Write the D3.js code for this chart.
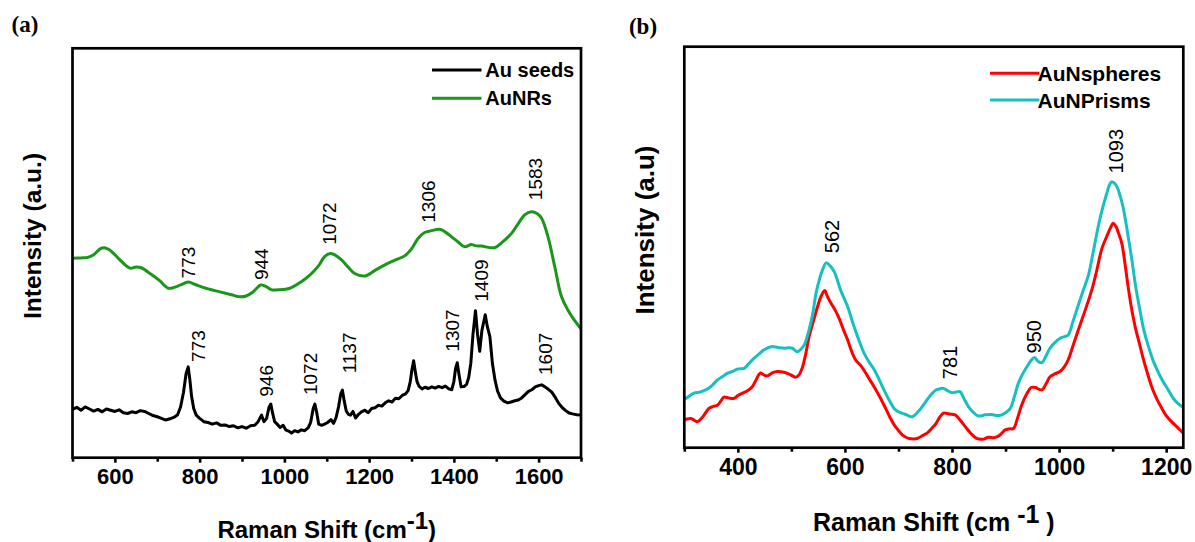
<!DOCTYPE html>
<html>
<head>
<meta charset="utf-8">
<script src="https://cdn.jsdelivr.net/npm/d3@7/dist/d3.min.js"></script>
<style>
  html, body { margin: 0; padding: 0; background: #fff; }
  svg { display: block; font-family: "Liberation Sans", Arial, sans-serif; }
</style>
</head>
<body>
<svg id="fig" width="1195" height="542"></svg>
<script>
// ---------- Panel (a): Raman spectra, Au seeds vs AuNRs ----------
const seedsSpectrum = [
  [500,11.8],[510,12.3],[520,11.6],[530,12.4],[540,11.9],[550,11.4],[560,11.8],[570,11.2],[580,11.9],[590,11.6],
  [600,11.3],[610,11.7],[620,11.0],[630,10.8],[640,11.2],[650,11.0],[660,11.5],[670,11.3],[680,10.8],[690,10.3],
  [700,10.0],[710,9.6],[720,9.2],[730,9.5],[740,9.9],[748,10.5],[755,12.4],[762,16.0],[768,20.5],[773,22.2],
  [777,19.0],[781,15.0],[786,12.0],[792,10.4],[800,9.6],[810,8.8],[820,8.6],[830,8.2],[840,8.5],[850,7.9],
  [860,8.0],[870,7.6],[880,7.8],[890,7.3],[900,7.6],[910,7.2],[920,7.8],[930,7.9],[938,8.8],[946,10.4],
  [952,8.8],[958,9.6],[964,12.4],[968,13.1],[972,11.0],[977,8.8],[983,8.2],[990,7.4],[997,7.9],[1003,6.8],
  [1010,6.5],[1017,6.0],[1024,6.6],[1032,6.3],[1040,6.8],[1048,6.6],[1056,7.3],[1062,8.6],[1068,12.0],[1072,13.1],
  [1076,11.2],[1081,8.2],[1088,7.9],[1095,8.2],[1102,8.6],[1110,9.3],[1116,8.4],[1122,9.8],[1128,12.5],[1133,15.6],
  [1137,16.5],[1141,14.0],[1146,11.4],[1151,10.6],[1156,10.4],[1162,11.3],[1168,9.7],[1175,10.6],[1182,11.2],[1190,11.6],
  [1198,11.0],[1206,12.0],[1214,12.2],[1222,12.8],[1230,12.6],[1238,13.4],[1246,13.9],[1254,13.6],[1262,14.5],[1270,14.4],
  [1278,15.2],[1286,15.6],[1292,16.4],[1297,18.5],[1301,21.5],[1305,23.7],[1309,21.0],[1313,18.6],[1318,17.4],[1325,16.8],
  [1332,17.2],[1340,16.9],[1348,17.3],[1356,17.0],[1364,17.4],[1372,17.1],[1380,17.5],[1388,16.8],[1395,16.6],[1400,18.6],
  [1404,21.8],[1408,23.2],[1412,20.4],[1417,17.3],[1424,17.4],[1430,17.9],[1435,19.6],[1440,23.1],[1445,30.0],[1451,35.9],
  [1456,30.0],[1461,26.0],[1466,31.0],[1474,34.9],[1479,32.0],[1485,29.6],[1491,23.0],[1497,19.0],[1503,16.3],[1510,14.6],
  [1518,13.8],[1527,13.4],[1535,13.6],[1544,13.9],[1552,14.1],[1560,14.6],[1568,15.4],[1576,16.2],[1584,16.6],[1592,17.3],
  [1600,17.6],[1607,17.8],[1615,17.3],[1623,16.7],[1631,16.0],[1640,14.6],[1648,13.2],[1656,12.2],[1664,11.5],[1672,10.9],
  [1680,10.7],[1690,10.5],[1700,10.4]
];

const nanorodSpectrum = [
  [500,48.7],[520,48.8],[535,48.9],[550,49.6],[565,51.0],[575,51.3],[585,50.9],[597,49.9],[615,48.0],[636,46.3],
  [650,46.6],[662,46.4],[683,45.0],[705,43.3],[726,41.4],[740,41.6],[755,42.2],[773,42.9],[790,42.3],[808,41.6],
  [848,40.5],[875,39.8],[895,39.3],[910,39.5],[925,40.4],[935,41.4],[944,42.2],[955,41.9],[970,41.0],[985,41.0],
  [1013,41.4],[1040,43.0],[1060,44.6],[1080,46.8],[1095,49.1],[1108,49.9],[1118,49.6],[1135,48.3],[1150,46.6],[1166,45.0],
  [1190,44.4],[1213,45.7],[1237,47.1],[1260,48.2],[1284,49.3],[1300,51.0],[1315,53.5],[1331,55.0],[1345,55.4],[1367,55.8],
  [1380,55.1],[1394,54.0],[1410,52.7],[1426,51.5],[1441,52.1],[1450,51.8],[1465,51.7],[1496,51.3],[1515,52.7],[1536,54.8],
  [1552,57.2],[1567,59.3],[1583,60.1],[1597,59.6],[1607,58.5],[1622,54.0],[1638,46.7],[1654,39.3],[1669,36.1],[1683,33.8],
  [1700,31.5]
];

// peak annotations: [text, wavenumber, intensity at the foot of the label]
const seedsPeaks = [
  ["773", 797, 23.4], ["946", 958, 14.9], ["1072", 1062, 15.3], ["1137", 1154, 20.6],
  ["1307", 1397, 25.9], ["1409", 1465, 38.1], ["1607", 1616, 20.2]
];
const nanorodPeaks = [
  ["773", 773, 43.8], ["944", 946, 43.4], ["1072", 1106, 52.0], ["1306", 1340, 57.4], ["1583", 1593, 62.9]
];

const ticksA = [600, 800, 1000, 1200, 1400, 1600];
const minorTicksA = [500, 700, 900, 1100, 1300, 1500, 1700];
const seriesNamesA = ["Au seeds", "AuNRs"];

// ---------- Panel (b): Raman spectra, AuNspheres vs AuNPrisms ----------
const spheresSpectrum = [
  [300,7.0],[303,7.1],[312,7.3],[318,6.9],[325,6.5],[335,7.8],[346,9.8],[354,10.3],[362,10.6],[368,11.6],
  [374,12.6],[383,12.4],[393,12.3],[400,13.0],[409,13.6],[418,14.2],[427,15.2],[434,16.9],[442,18.6],[449,18.1],
  [455,17.9],[465,18.7],[474,19.0],[486,18.8],[497,18.3],[508,17.6],[515,18.3],[521,20.2],[527,23.5],[533,27.7],
  [541,31.5],[549,35.2],[555,37.6],[562,39.2],[567,37.8],[574,36.0],[581,34.5],[589,32.3],[597,29.5],[605,26.9],
  [612,24.2],[620,21.9],[630,20.4],[639,18.6],[648,16.6],[658,14.4],[667,12.2],[676,9.8],[684,7.6],[692,5.7],
  [700,4.3],[707,3.2],[714,2.6],[720,2.3],[728,2.2],[735,2.3],[745,3.0],[754,3.7],[762,4.8],[770,6.0],
  [777,7.6],[784,8.6],[795,8.4],[806,8.2],[815,6.9],[825,5.2],[835,3.6],[846,2.3],[857,2.1],[868,2.6],
  [878,2.5],[887,2.9],[893,3.6],[899,4.4],[907,4.7],[915,4.8],[922,7.2],[930,10.6],[938,13.0],[948,15.0],
  [956,15.0],[962,14.6],[968,14.4],[976,16.0],[983,17.7],[992,18.4],[1002,19.0],[1010,20.2],[1017,21.9],[1026,25.4],
  [1036,29.4],[1048,34.0],[1061,39.3],[1070,44.0],[1080,49.7],[1090,53.0],[1096,54.8],[1101,56.0],[1106,55.2],[1111,53.5],
  [1117,51.0],[1123,46.0],[1129,40.1],[1135,35.0],[1142,30.2],[1150,26.0],[1157,22.3],[1165,18.6],[1173,15.2],[1182,12.3],
  [1192,9.8],[1200,8.0],[1210,6.5],[1220,5.2],[1229,4.0],[1232,3.7]
];

const prismsSpectrum = [
  [300,12.1],[303,12.3],[318,13.6],[330,13.9],[340,14.4],[350,15.3],[362,16.9],[372,17.8],[381,18.6],[390,19.0],
  [399,19.6],[412,19.8],[420,20.9],[430,22.3],[440,23.4],[449,24.4],[462,25.2],[475,25.0],[486,24.8],[495,24.9],
  [502,24.8],[511,23.9],[518,24.6],[524,25.6],[533,29.4],[540,33.5],[546,38.5],[552,41.8],[558,44.3],[565,46.1],
  [572,45.4],[580,43.9],[592,39.3],[605,35.2],[617,30.2],[627,26.5],[636,23.5],[645,21.4],[655,19.4],[664,17.0],
  [673,14.4],[682,12.0],[692,9.8],[701,8.9],[711,8.4],[718,8.0],[726,7.7],[734,8.6],[742,9.8],[751,11.5],
  [760,13.1],[770,14.4],[778,14.7],[784,14.8],[792,14.2],[800,13.7],[808,13.9],[815,14.0],[822,12.3],[831,10.2],
  [840,8.8],[849,7.9],[862,8.2],[874,8.3],[884,8.0],[893,8.2],[900,8.7],[909,9.8],[916,12.5],[924,16.1],
  [932,18.4],[940,20.2],[948,21.8],[954,22.5],[961,21.5],[968,21.2],[976,23.0],[983,24.8],[992,26.2],[1002,27.3],
  [1010,27.7],[1017,28.1],[1026,31.5],[1036,35.6],[1045,39.2],[1055,43.1],[1064,49.0],[1073,55.1],[1081,59.6],[1089,63.4],
  [1094,65.5],[1098,66.3],[1103,66.0],[1108,65.1],[1114,62.8],[1120,59.7],[1128,53.5],[1136,46.8],[1143,40.2],[1151,34.3],
  [1158,29.5],[1167,25.2],[1176,21.6],[1186,18.6],[1195,16.3],[1204,14.4],[1210,13.0],[1217,11.7],[1223,10.9],[1232,10.0]
];

const prismPeaks = [
  ["562", 575, 48.5], ["781", 796, 17.1], ["950", 954, 23.5], ["1093", 1106, 68.4]
];

const ticksB = [400, 600, 800, 1000, 1200];
const minorTicksB = [300, 500, 700, 900, 1100];
const seriesNamesB = ["AuNspheres", "AuNPrisms"];

// ---------- drawing ----------
const svg = d3.select("#fig");
svg.append("rect").attr("width", 1195).attr("height", 542).attr("fill", "#fff");

function drawPanel(cfg) {
  const g = svg.append("g");
  const x = d3.scaleLinear().domain(cfg.xDomain).range([cfg.left, cfg.right]);
  const y = d3.scaleLinear().domain([0, 100]).range([cfg.bottom, cfg.top]);

  const clipId = "clip-" + cfg.id;
  svg.append("clipPath").attr("id", clipId)
    .append("rect").attr("x", cfg.left).attr("y", cfg.top)
    .attr("width", cfg.right - cfg.left).attr("height", cfg.bottom - cfg.top);

  const plot = g.append("g").attr("clip-path", `url(#${clipId})`);
  cfg.series.forEach(s => {
    const line = d3.line().x(d => x(d[0])).y(d => y(d[1])).curve(s.curve);
    plot.append("path").datum(s.data)
      .attr("d", line).attr("fill", "none")
      .attr("stroke", s.color).attr("stroke-width", 3)
      .attr("stroke-linejoin", "round").attr("stroke-linecap", "round");
  });

  // peak labels, written vertically
  cfg.peaks.forEach(p => {
    g.append("text")
      .attr("transform", `translate(${x(p[1])},${y(p[2])}) rotate(-90)`)
      .attr("dominant-baseline", "central")
      .attr("font-size", cfg.peakFont).attr("fill", "#000")
      .text(p[0]);
  });

  // bottom axis: labelled major ticks + minor ticks
  const axisMajor = d3.axisBottom(x).tickValues(cfg.ticks).tickSize(5).tickSizeOuter(0).tickPadding(6)
    .tickFormat(d3.format("d"));
  const axisMinor = d3.axisBottom(x).tickValues(cfg.minor).tickSize(4).tickSizeOuter(0).tickFormat("");
  const ax = g.append("g").attr("transform", `translate(0,${cfg.bottom})`).call(axisMajor);
  const axm = g.append("g").attr("transform", `translate(0,${cfg.bottom})`).call(axisMinor);
  [ax, axm].forEach(a => {
    a.select(".domain").remove();
    a.selectAll(".tick line").attr("stroke", "#000").attr("stroke-width", 2.6);
  });
  ax.selectAll(".tick text")
    .attr("font-family", "Liberation Sans, Arial, sans-serif")
    .attr("font-size", cfg.tickFont).attr("font-weight", "bold").attr("fill", "#000")
    .attr("dy", "0.71em");

  // frame
  g.append("rect")
    .attr("x", cfg.left).attr("y", cfg.top)
    .attr("width", cfg.right - cfg.left).attr("height", cfg.bottom - cfg.top)
    .attr("fill", "none").attr("stroke", "#000").attr("stroke-width", 2.7);

  // legend
  cfg.series.forEach((s, i) => {
    const ly = cfg.legend.y0 + i * cfg.legend.dy;
    g.append("line").attr("x1", cfg.legend.x1).attr("x2", cfg.legend.x2)
      .attr("y1", ly).attr("y2", ly).attr("stroke", s.color).attr("stroke-width", 3);
    g.append("text").attr("x", cfg.legend.tx).attr("y", ly)
      .attr("dominant-baseline", "central").attr("font-size", cfg.legend.font)
      .attr("font-weight", "bold").attr("fill", "#000").text(s.name);
  });

  // axis titles
  g.append("text")
    .attr("transform", `translate(${cfg.yTitle.x},${cfg.yTitle.y}) rotate(-90)`)
    .attr("text-anchor", "middle").attr("dominant-baseline", "central")
    .attr("font-size", cfg.yTitle.font).attr("font-weight", "bold")
    .text(cfg.yTitle.text);

  const xt = g.append("text")
    .attr("x", (cfg.left + cfg.right) / 2).attr("y", cfg.xTitle.y)
    .attr("text-anchor", "middle").attr("font-size", cfg.xTitle.font).attr("font-weight", "bold");
  xt.append("tspan").text("Raman Shift (cm" + cfg.xTitle.gap);
  xt.append("tspan").attr("dy", -cfg.xTitle.rise).text("-1");
  xt.append("tspan").attr("dy", cfg.xTitle.rise).text(cfg.xTitle.gap + ")");

  // panel letter
  svg.append("text").attr("x", cfg.letter.x).attr("y", cfg.letter.y)
    .attr("text-anchor", "middle")
    .attr("font-family", "Liberation Serif, 'Times New Roman', serif")
    .attr("font-size", 23).attr("font-weight", "bold").text(cfg.letter.text);
}

drawPanel({
  id: "a", xDomain: [500, 1700],
  left: 72.5, right: 581, top: 48.3, bottom: 457.7,
  series: [
    { name: seriesNamesA[0], data: seedsSpectrum, color: "#000000", curve: d3.curveLinear },
    { name: seriesNamesA[1], data: nanorodSpectrum, color: "#1a961a", curve: d3.curveCatmullRom.alpha(0.5) }
  ],
  peaks: seedsPeaks.concat(nanorodPeaks),
  peakFont: 19, tickFont: 22,
  ticks: ticksA, minor: minorTicksA,
  legend: { x1: 432, x2: 481.5, tx: 485.3, y0: 70, dy: 28.3, font: 20 },
  yTitle: { x: 32, y: 236, font: 24.5, text: "Intensity (a.u.)" },
  xTitle: { y: 538, font: 24, rise: 9, gap: "" },
  letter: { x: 25, y: 32, text: "(a)" }
});

drawPanel({
  id: "b", xDomain: [300, 1232],
  left: 684.3, right: 1183.3, top: 46.7, bottom: 447.7,
  series: [
    { name: seriesNamesB[0], data: spheresSpectrum, color: "#ff0000", curve: d3.curveCatmullRom.alpha(0.5) },
    { name: seriesNamesB[1], data: prismsSpectrum, color: "#17c0c0", curve: d3.curveCatmullRom.alpha(0.5) }
  ],
  peaks: prismPeaks,
  peakFont: 20, tickFont: 23,
  ticks: ticksB, minor: minorTicksB,
  legend: { x1: 990, x2: 1039.4, tx: 1037.5, y0: 73.3, dy: 26.7, font: 21 },
  yTitle: { x: 645, y: 230, font: 26, text: "Intensity (a.u)" },
  xTitle: { y: 530.5, font: 25, rise: 8, gap: " " },
  letter: { x: 643, y: 33.7, text: "(b)" }
});
</script>
</body>
</html>
